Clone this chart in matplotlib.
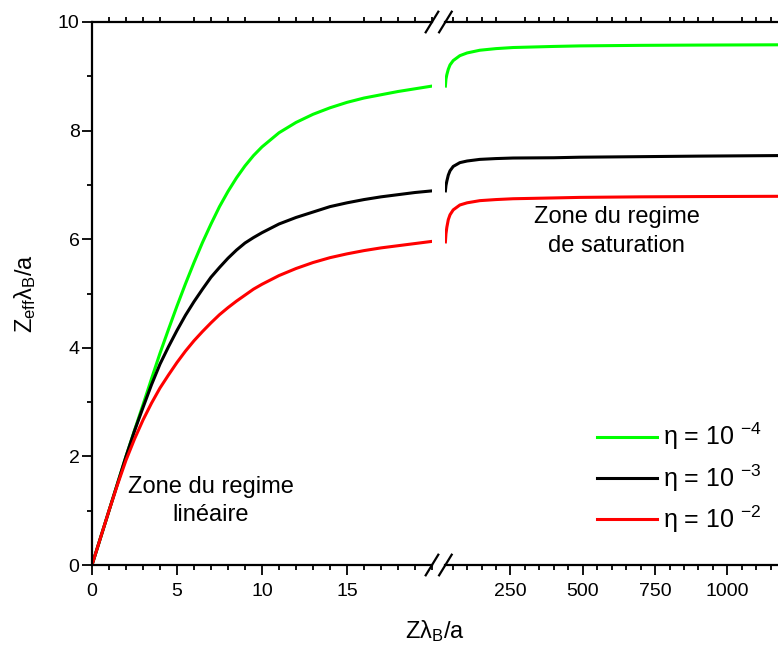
import matplotlib
matplotlib.use('Agg')
import matplotlib.pyplot as plt
from matplotlib.lines import Line2D
from matplotlib.ticker import MultipleLocator

plt.rcParams['font.family'] = ['Liberation Sans', 'DejaVu Sans']
plt.rcParams['mathtext.fontset'] = 'custom'
plt.rcParams['mathtext.rm'] = 'Liberation Sans'
plt.rcParams['mathtext.it'] = 'Liberation Sans:italic'
plt.rcParams['mathtext.bf'] = 'Liberation Sans:bold'

# linear regime part (left axis)
x_left = [0, 1, 1.5, 2, 2.5, 3, 3.5, 4, 4.5, 5, 5.5, 6, 6.5, 7, 7.5, 8, 8.5, 9, 9.5,
          10, 11, 12, 13, 14, 15, 16, 17, 18, 19, 20]
green_left = [0, 1.0, 1.5, 2.0, 2.48, 2.95, 3.43, 3.9, 4.34, 4.77, 5.18, 5.57, 5.94, 6.28, 6.6,
              6.88, 7.13, 7.35, 7.54, 7.7, 7.96, 8.15, 8.3, 8.42, 8.52, 8.6, 8.66, 8.72, 8.77, 8.82]
black_left = [0, 1.0, 1.5, 2.0, 2.47, 2.9, 3.32, 3.7, 4.02, 4.32, 4.6, 4.85, 5.08, 5.3, 5.48,
              5.65, 5.8, 5.93, 6.03, 6.12, 6.28, 6.4, 6.5, 6.6, 6.67, 6.73, 6.78, 6.82, 6.86, 6.89]
red_left = [0, 1.0, 1.48, 1.93, 2.32, 2.67, 2.98, 3.26, 3.5, 3.73, 3.94, 4.13, 4.3, 4.46, 4.61,
            4.74, 4.86, 4.97, 5.08, 5.17, 5.33, 5.46, 5.57, 5.66, 5.73, 5.79, 5.84, 5.88, 5.92, 5.96]

# saturation part (right axis)
x_right = [25, 27, 30, 35, 41, 52, 75, 100, 144, 200, 259, 400, 490, 700, 900, 1175]
green_right = [8.82, 8.95, 9.03, 9.13, 9.21, 9.29, 9.38, 9.43, 9.48, 9.51, 9.53, 9.55, 9.56, 9.57, 9.575, 9.58]
black_right = [6.89, 6.99, 7.07, 7.18, 7.26, 7.34, 7.41, 7.44, 7.47, 7.485, 7.495, 7.50, 7.51, 7.52, 7.53, 7.54]
red_right = [5.95, 6.1, 6.22, 6.36, 6.45, 6.54, 6.63, 6.67, 6.71, 6.73, 6.745, 6.76, 6.77, 6.78, 6.785, 6.79]

labels = [r'η = 10 $^{-4}$', r'η = 10 $^{-3}$', r'η = 10 $^{-2}$']
colors = ['#00ff00', '#000000', '#ff0000']

W, H = 778, 647
fig = plt.figure(figsize=(W / 100, H / 100), dpi=100)
axL = fig.add_axes([92 / W, (H - 565) / H, (432 - 92) / W, 543 / H])
axR = fig.add_axes([445.4 / W, (H - 565) / H, (778 - 445.4) / W, 543 / H])

for ys, c in zip([green_left, black_left, red_left], colors):
    axL.plot(x_left, ys, color=c, lw=2.2)
for ys, c in zip([green_right, black_right, red_right], colors):
    axR.plot(x_right, ys, color=c, lw=2.2)

for ax in (axL, axR):
    ax.set_ylim(0, 10)
    for s in ax.spines.values():
        s.set_linewidth(1.6)
    ax.spines['right'].set_visible(False)
    ax.tick_params(which='both', direction='out', width=1.3, labelsize=14)
    ax.tick_params(which='major', length=7, top=False)
    ax.tick_params(which='minor', length=3.6, top=True)
    ax.tick_params(axis='x', which='major', pad=6)

axL.set_xlim(0, 20)
axL.set_xticks([0, 5, 10, 15])
axL.xaxis.set_minor_locator(MultipleLocator(1))
axL.set_yticks([0, 2, 4, 6, 8, 10])
axL.yaxis.set_minor_locator(MultipleLocator(1))
axL.tick_params(axis='y', which='major', pad=2)
axL.set_ylabel(r'Z$_{\mathregular{eff}}$λ$_{\mathregular{B}}$/a', fontsize=17, labelpad=14)

axR.set_xlim(25, 1175)
axR.set_xticks([250, 500, 750, 1000])
axR.xaxis.set_minor_locator(MultipleLocator(50))
axR.spines['left'].set_visible(False)
axR.tick_params(axis='y', which='both', left=False, labelleft=False)

# break marks
dxL = 6.3 / 340
dxR = 6.3 / 332.6
dy = 10.3 / 543
for yy in (0, 1):
    axL.plot([1 - dxL, 1 + dxL], [yy - dy, yy + dy], transform=axL.transAxes,
             color='k', lw=1.6, clip_on=False)
    axR.plot([-dxR, dxR], [yy - dy, yy + dy], transform=axR.transAxes,
             color='k', lw=1.6, clip_on=False)

axL.text(7.0, 1.18, 'Zone du regime\nlinéaire', fontsize=17, ha='center',
         va='center', multialignment='center', linespacing=1.4)
axR.text(618, 6.14, 'Zone du regime\nde saturation', fontsize=17, ha='center',
         va='center', multialignment='center', linespacing=1.4)

fig.text(405 / W, 1 - 638 / H, r'Zλ$_{\mathregular{B}}$/a', fontsize=17,
         ha='left', va='baseline')

handles = [Line2D([], [], color=c, lw=2.2) for c in colors]
axR.legend(handles, labels, loc='upper left', bbox_to_anchor=(597 / W, 1 - 421 / H),
           bbox_transform=fig.transFigure, frameon=False, fontsize=18,
           handlelength=2.4, handletextpad=0.25, labelspacing=0.4,
           borderpad=0, borderaxespad=0)

plt.savefig('out.png', dpi=100)
